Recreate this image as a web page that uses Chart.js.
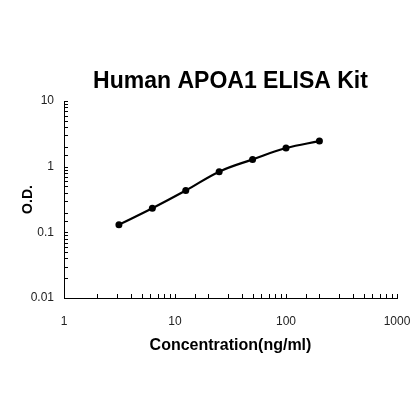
<!DOCTYPE html>
<html lang="en">
<head>
  <meta charset="UTF-8">
  <title>Human APOA1 ELISA Kit</title>
  <script src="https://cdn.jsdelivr.net/npm/chart.js"></script>
  <style>
    html, body { margin: 0; padding: 0; background: #fff; }
    canvas { display: block; }
  </style>
</head>
<body>
  <canvas id="curve" width="420" height="420"></canvas>

  <script>
    // standard curve data
    const concentrations = [3.125, 6.25, 12.5, 25, 50, 100, 200];
    const odValues = [0.131, 0.233, 0.433, 0.84, 1.29, 1.92, 2.45];

    const xTickValues = [1, 10, 100, 1000];
    const xTickLabels = ['1', '10', '100', '1000'];
    const yTickValues = [0.01, 0.1, 1, 10];
    const yTickLabels = ['0.01', '0.1', '1', '10'];

    const chartTitle = 'Human APOA1 ELISA Kit';
    const xTitle = 'Concentration(ng/ml)';
    const yTitle = 'O.D.';

    const FONT = "'Liberation Sans', Arial, sans-serif";

    function decadeLabel(val, values, labels) {
      for (let i = 0; i < values.length; i++) {
        if (Math.abs(val - values[i]) < values[i] * 1e-6) return labels[i];
      }
      return '';
    }

    // inward tick marks + title over the plot area
    const decorPlugin = {
      id: 'decor',
      afterDraw(chart) {
        const ctx = chart.ctx;
        const ca = chart.chartArea;
        ctx.save();
        ctx.strokeStyle = '#000';
        ctx.lineWidth = 1;
        const xs = chart.scales.x, ys = chart.scales.y;
        ctx.beginPath();
        xs.ticks.forEach(t => {
          const px = Math.round(xs.getPixelForValue(t.value)) + 0.5;
          ctx.moveTo(px, ca.bottom);
          ctx.lineTo(px, ca.bottom - 4);
        });
        ys.ticks.forEach(t => {
          const py = Math.round(ys.getPixelForValue(t.value)) + 0.5;
          ctx.moveTo(ca.left, py);
          ctx.lineTo(ca.left + 4, py);
        });
        ctx.stroke();

        ctx.fillStyle = '#000';
        ctx.font = 'bold 23px ' + FONT;
        ctx.textAlign = 'center';
        ctx.textBaseline = 'alphabetic';
        ctx.fillText(chartTitle, (ca.left + ca.right) / 2, 88);
        ctx.restore();
      }
    };

    const ctx = document.getElementById('curve').getContext('2d');
    new Chart(ctx, {
      type: 'line',
      data: {
        datasets: [{
          data: concentrations.map((c, i) => ({ x: c, y: odValues[i] })),
          borderColor: '#000',
          backgroundColor: '#000',
          borderWidth: 2.2,
          tension: 0.4,
          pointRadius: 3.5,
          pointBackgroundColor: '#000',
          pointBorderWidth: 0,
          fill: false
        }]
      },
      options: {
        responsive: false,
        animation: false,
        devicePixelRatio: 1,
        layout: { padding: { top: 101, right: 23, bottom: 0, left: 0 } },
        plugins: { legend: { display: false }, tooltip: { enabled: false }, title: { display: false } },
        scales: {
          x: {
            type: 'logarithmic',
            min: 1, max: 1000,
            afterFit: s => { s.height = 122; },
            grid: { display: false },
            border: { display: true, color: '#000', width: 1 },
            ticks: {
              autoSkip: false, maxRotation: 0, padding: 8,
              color: '#222', font: { family: FONT, size: 12 },
              callback: v => decadeLabel(v, xTickValues, xTickLabels)
            },
            title: {
              display: true, text: xTitle, color: '#000',
              font: { family: FONT, size: 16, weight: 'bold' },
              padding: { top: 0, bottom: 65 }
            }
          },
          y: {
            type: 'logarithmic',
            min: 0.01, max: 10,
            afterFit: s => { s.width = 64; },
            grid: { display: false },
            border: { display: true, color: '#000', width: 1 },
            ticks: {
              autoSkip: false, padding: 2,
              color: '#222', font: { family: FONT, size: 12 },
              callback: v => decadeLabel(v, yTickValues, yTickLabels)
            },
            title: {
              display: true, text: yTitle, color: '#000',
              font: { family: FONT, size: 14, weight: 'bold' },
              padding: { top: 20, bottom: 0 }
            }
          }
        }
      },
      plugins: [decorPlugin]
    });
  </script>
</body>
</html>
